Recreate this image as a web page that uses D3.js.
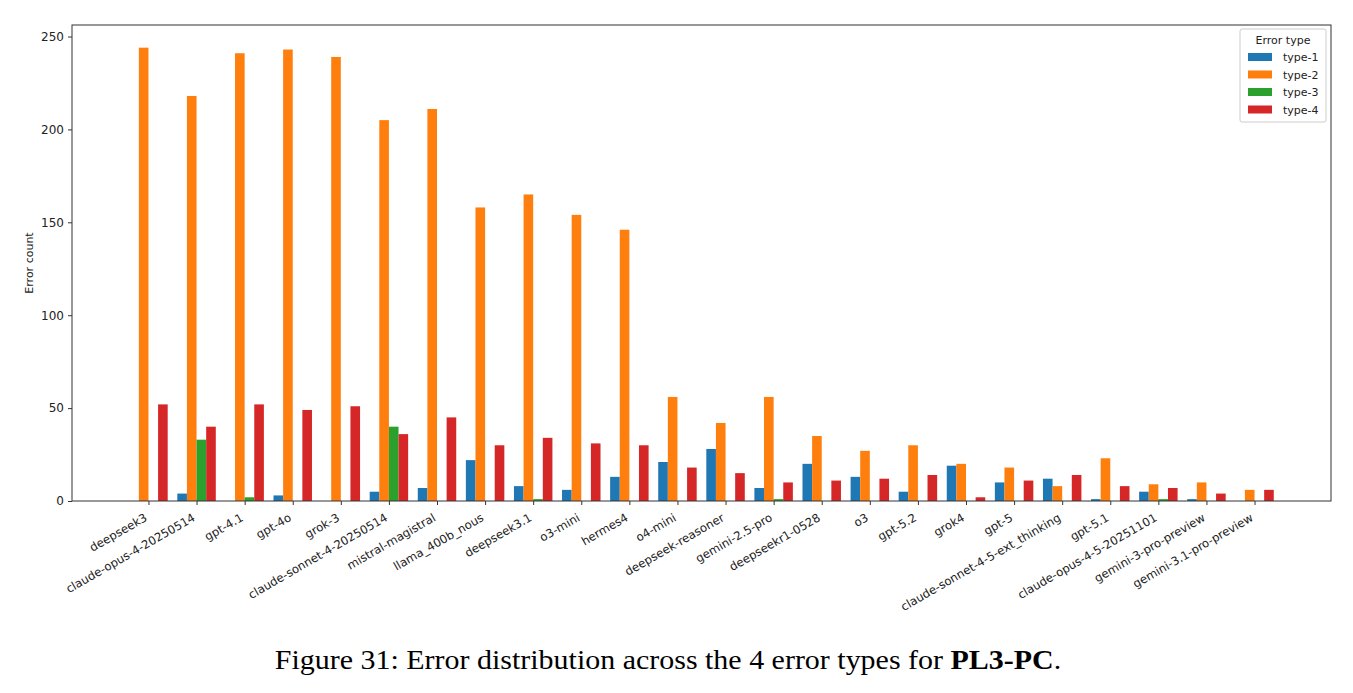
<!doctype html>
<html lang="en">
<head>
<meta charset="UTF-8">
<title>Error distribution PL3-PC</title>
<script src="https://d3js.org/d3.v7.min.js"></script>
<style>
  body { margin: 0; background: #fff; }
  text { font-family: "DejaVu Sans", sans-serif; fill: #222; }
  .caption { font-family: "Liberation Serif", "Times New Roman", serif; fill: #000; }
</style>
</head>
<body>
<div class="canvas"></div>
<script>
  // model names on the x axis
  const models = ['deepseek3', 'claude-opus-4-20250514', 'gpt-4.1', 'gpt-4o', 'grok-3',
    'claude-sonnet-4-20250514', 'mistral-magistral', 'llama_400b_nous', 'deepseek3.1', 'o3-mini',
    'hermes4', 'o4-mini', 'deepseek-reasoner', 'gemini-2.5-pro', 'deepseekr1-0528', 'o3',
    'gpt-5.2', 'grok4', 'gpt-5', 'claude-sonnet-4-5-ext_thinking', 'gpt-5.1',
    'claude-opus-4-5-20251101', 'gemini-3-pro-preview', 'gemini-3.1-pro-preview'];

  const errorTypes = ['type-1', 'type-2', 'type-3', 'type-4'];

  // error counts per model
  const type1 = [0, 4, 0, 3, 0, 5, 7, 22, 8, 6, 13, 21, 28, 7, 20, 13, 5, 19, 10, 12, 1, 5, 1, 0];
  const type2 = [244, 218, 241, 243, 239, 205, 211, 158, 165, 154, 146, 56, 42, 56, 35, 27, 30, 20, 18, 8, 23, 9, 10, 6];
  const type3 = [0, 33, 2, 0, 0, 40, 0, 0, 1, 0, 0, 0, 0, 1, 0, 0, 0, 0, 0, 0, 0, 1, 0, 0];
  const type4 = [52, 40, 52, 49, 51, 36, 45, 30, 34, 31, 30, 18, 15, 10, 11, 12, 14, 2, 11, 14, 8, 7, 4, 6];

  const yTicks = [0, 50, 100, 150, 200, 250];
  const colors = ['#1f77b4', '#ff7f0e', '#2ca02c', '#d62728'];

  const series = [type1, type2, type3, type4];

  const W = 1353, H = 693;
  const m = { left: 72, right: 1331, top: 25, bottom: 501 };
  const barW = 0.2;

  const svg = d3.select('.canvas')
    .append('svg')
    .attr('width', W)
    .attr('height', H);

  // matplotlib-style linear x with 5% margins
  const lo = -2 * barW, hi = models.length - 1 + 2 * barW;
  const pad = (hi - lo) * 0.05;
  const x = d3.scaleLinear().domain([lo - pad, hi + pad]).range([m.left, m.right]);

  const maxVal = d3.max(series.flat());
  const y = d3.scaleLinear().domain([0, maxVal * 1.05]).range([m.bottom, m.top]);

  // bars
  series.forEach((vals, s) => {
    svg.append('g')
      .selectAll('rect')
      .data(vals)
      .join('rect')
      .attr('x', (d, i) => x(i + (s - 2) * barW))
      .attr('width', x(barW) - x(0))
      .attr('y', d => y(d))
      .attr('height', d => y(0) - y(d))
      .attr('fill', colors[s]);
  });

  // y axis
  const yAxis = svg.append('g')
    .attr('transform', `translate(${m.left},0)`)
    .call(d3.axisLeft(y).tickValues(yTicks).tickSize(4).tickPadding(4));
  yAxis.select('.domain').remove();
  yAxis.selectAll('text').attr('font-size', 12).attr('font-family', 'DejaVu Sans').attr('fill', '#222');
  yAxis.selectAll('line').attr('stroke', '#333');

  // x axis
  const xAxis = svg.append('g')
    .attr('transform', `translate(0,${m.bottom})`)
    .call(d3.axisBottom(x).tickValues(d3.range(models.length)).tickFormat(i => models[i]).tickSize(4));
  xAxis.select('.domain').remove();
  xAxis.selectAll('line').attr('stroke', '#333');
  xAxis.selectAll('text')
    .attr('font-size', 11.7)
    .attr('font-family', 'DejaVu Sans')
    .attr('fill', '#222')
    .attr('text-anchor', 'end')
    .attr('dy', null)
    .attr('y', 0)
    .attr('transform', 'translate(-1,19) rotate(-30)');

  // frame
  svg.append('rect')
    .attr('x', m.left).attr('y', m.top)
    .attr('width', m.right - m.left).attr('height', m.bottom - m.top)
    .attr('fill', 'none').attr('stroke', '#333').attr('stroke-width', 1);

  svg.append('text')
    .attr('transform', `translate(33,${(m.top + m.bottom) / 2}) rotate(-90)`)
    .attr('text-anchor', 'middle')
    .attr('font-size', 11)
    .text('Error count');

  // legend
  const lg = svg.append('g').attr('transform', 'translate(1240,29)');
  lg.append('rect')
    .attr('width', 86).attr('height', 93).attr('rx', 2)
    .attr('fill', '#fff').attr('stroke', '#ccc');
  lg.append('text')
    .attr('x', 43).attr('y', 15)
    .attr('text-anchor', 'middle')
    .attr('font-size', 11)
    .text('Error type');
  errorTypes.forEach((t, i) => {
    lg.append('rect')
      .attr('x', 8).attr('y', 24 + i * 17.5)
      .attr('width', 24).attr('height', 8)
      .attr('fill', colors[i]);
    lg.append('text')
      .attr('x', 43).attr('y', 32 + i * 17.5)
      .attr('font-size', 11)
      .text(t);
  });

  // caption (the figure text is a little wider than plain Times)
  const cap = svg.append('text')
    .attr('class', 'caption')
    .attr('transform', 'translate(668,669) scale(1.11,1)')
    .attr('text-anchor', 'middle')
    .attr('font-size', 27);
  cap.append('tspan').text('Figure 31: Error distribution across the 4 error types for ');
  cap.append('tspan').attr('font-weight', 'bold').text('PL3-PC');
  cap.append('tspan').text('.');
</script>
</body>
</html>
